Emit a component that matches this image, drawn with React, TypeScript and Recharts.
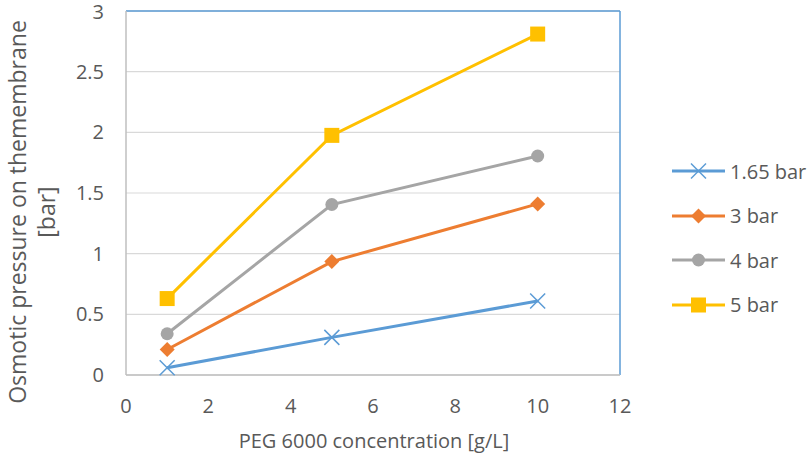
import React from 'react';
import { LineChart, Line, XAxis, YAxis, CartesianGrid, ReferenceLine } from 'recharts';

const concentrations = [1, 5, 10];
const s165 = [0.06, 0.31, 0.61];
const s3 = [0.21, 0.935, 1.41];
const s4 = [0.34, 1.405, 1.805];
const s5 = [0.63, 1.975, 2.81];
const xTicks = [0, 2, 4, 6, 8, 10, 12];
const yTicks = [0, 0.5, 1, 1.5, 2, 2.5, 3];

const seriesNames = ['1.65 bar', '3 bar', '4 bar', '5 bar'];
const colors = ['#5B9BD5', '#ED7D31', '#A5A5A5', '#FFC000'];
const shapes = ['cross', 'diamond', 'circle', 'square'];

const data = concentrations.map((c, i) => ({ c, a: s165[i], b: s3[i], d: s4[i], e: s5[i] }));
const keys = ['a', 'b', 'd', 'e'];

const FONT = '"Open Sans", sans-serif';
const TXT = '#595959';

function Marker({ shape, color, cx, cy }: { shape: string; color: string; cx: number; cy: number }) {
  if (shape === 'cross') {
    const s = 7.5;
    return (
      <g>
        <line x1={cx - s} y1={cy - s} x2={cx + s} y2={cy + s} stroke={color} strokeWidth={1.5} />
        <line x1={cx - s} y1={cy + s} x2={cx + s} y2={cy - s} stroke={color} strokeWidth={1.5} />
      </g>
    );
  }
  if (shape === 'diamond') {
    const s = 7.5;
    return <polygon points={`${cx},${cy - s} ${cx + s},${cy} ${cx},${cy + s} ${cx - s},${cy}`} fill={color} />;
  }
  if (shape === 'circle') {
    return <circle cx={cx} cy={cy} r={6.5} fill={color} />;
  }
  const s = 7.5;
  return <rect x={cx - s} y={cy - s} width={2 * s} height={2 * s} fill={color} />;
}

function makeDot(i: number) {
  return (props: any) => {
    const { cx, cy, index } = props;
    if (cx == null || cy == null) return <g key={index} />;
    return <Marker key={index} shape={shapes[i]} color={colors[i]} cx={cx} cy={cy} />;
  };
}

function LegendBox() {
  return (
    <div style={{ position: 'absolute', left: 671, top: 149, width: 140, fontFamily: FONT }}>
      {seriesNames.map((n, i) => (
        <div key={n} style={{ display: 'flex', alignItems: 'center', height: 44.5 }}>
          <svg width={56} height={20} style={{ display: 'block' }}>
            <line x1={1} y1={10} x2={54} y2={10} stroke={colors[i]} strokeWidth={3} />
            <Marker shape={shapes[i]} color={colors[i]} cx={27.5} cy={10} />
          </svg>
          <span style={{ marginLeft: 3, fontSize: 20, color: TXT, whiteSpace: 'nowrap' }}>{n}</span>
        </div>
      ))}
    </div>
  );
}

function YLabel() {
  return (
    <g>
      <text x={0} y={0} transform="translate(26, 212) rotate(-90)" textAnchor="middle" fontSize={23} fill={TXT} fontFamily={FONT}>
        Osmotic pressure on themembrane
      </text>
      <text x={0} y={0} transform="translate(55, 212) rotate(-90)" textAnchor="middle" fontSize={23} fill={TXT} fontFamily={FONT}>
        [bar]
      </text>
    </g>
  );
}

function XLabel() {
  return (
    <text x={374} y={448} textAnchor="middle" fontSize={20} fill={TXT} fontFamily={FONT}>
      PEG 6000 concentration [g/L]
    </text>
  );
}

export default function App() {
  return (
    <div style={{ position: 'absolute', left: 0, top: 0, width: 811, height: 460, background: '#fff' }}>
      <LineChart width={811} height={460} data={data} margin={{ top: 11, right: 191, bottom: 55, left: 0 }}>
        <CartesianGrid vertical={false} stroke="#D9D9D9" strokeWidth={1.2} />
        <XAxis
          dataKey="c"
          type="number"
          domain={[0, 12]}
          ticks={xTicks}
          height={30}
          tickSize={0}
          tickMargin={24}
          stroke="#BFBFBF"
          strokeWidth={1.5}
          tick={{ fill: TXT, fontSize: 20, fontFamily: FONT }}
          label={<XLabel />}
        />
        <YAxis
          type="number"
          domain={[0, 3]}
          ticks={yTicks}
          width={126}
          tickSize={0}
          tickMargin={22}
          stroke="#BFBFBF"
          strokeWidth={1.5}
          tick={{ fill: TXT, fontSize: 20, fontFamily: FONT }}
          label={<YLabel />}
        />
        <ReferenceLine y={3} stroke="#5B9BD5" strokeWidth={1.5} />
        <ReferenceLine x={12} stroke="#5B9BD5" strokeWidth={1.5} />
        {keys.map((k, i) => (
          <Line
            key={k}
            dataKey={k}
            name={seriesNames[i]}
            stroke={colors[i]}
            strokeWidth={3}
            dot={makeDot(i)}
            activeDot={false}
            isAnimationActive={false}
          />
        ))}
      </LineChart>
      <LegendBox />
    </div>
  );
}
